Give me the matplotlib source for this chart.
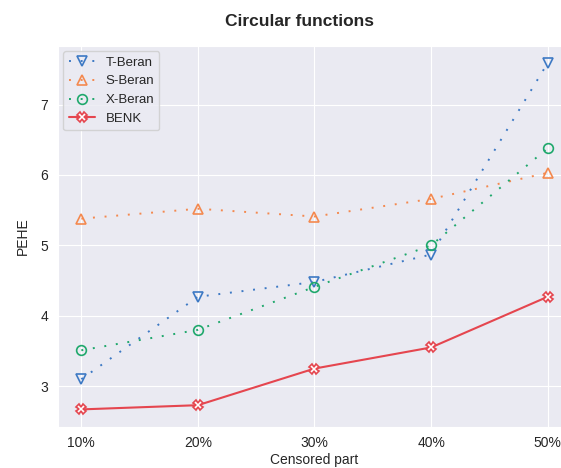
import numpy as np
import matplotlib
matplotlib.use("Agg")
import matplotlib.pyplot as plt
import seaborn as sns

# data
censored = ["10%", "20%", "30%", "40%", "50%"]
t_beran = [3.10, 4.27, 4.48, 4.87, 7.59]
s_beran = [5.38, 5.52, 5.41, 5.66, 6.03]
x_beran = [3.51, 3.80, 4.41, 5.00, 6.38]
benk = [2.67, 2.73, 3.25, 3.55, 4.27]

sns.set_style("darkgrid")
plt.rcParams['font.family'] = ['Arial', 'Liberation Sans', 'DejaVu Sans']

fig = plt.figure(figsize=(5.61, 4.68), dpi=100)
ax = fig.add_axes([0.1034, 0.0882, 0.9144, 0.8141])

dots = (0, (1, 5))
x = np.arange(len(censored))
ax.plot(x, t_beran, linestyle=dots, linewidth=1.4, color='#3d79c4', marker='v', markersize=7,
        markerfacecolor='none', markeredgewidth=1.2, label='T-Beran')
ax.plot(x, s_beran, linestyle=dots, linewidth=1.4, color='#f4894f', marker='^', markersize=7,
        markerfacecolor='none', markeredgewidth=1.2, label='S-Beran')
ax.plot(x, x_beran, linestyle=dots, linewidth=1.4, color='#1fa86c', marker='o', markersize=7,
        markerfacecolor='none', markeredgewidth=1.2, label='X-Beran')
ax.plot(x, benk, linestyle='-', color='#e5464f', marker='X', markersize=6.5,
        markerfacecolor='white', markeredgewidth=1.2, linewidth=1.5, label='BENK')

ax.set_xticks(x)
ax.set_xticklabels(censored)
ax.tick_params(labelsize=10)
ax.set_xlabel("Censored part", fontsize=10, labelpad=2)
ax.set_ylabel("PEHE", fontsize=10, labelpad=8)
fig.text(0.533, 0.955, "Circular functions", fontsize=12.5, fontweight='bold',
         ha='center', va='center')

ax.legend(loc='upper left', fontsize=9.5, frameon=True, borderaxespad=0.4)

fig.savefig("out.png", dpi=100)
